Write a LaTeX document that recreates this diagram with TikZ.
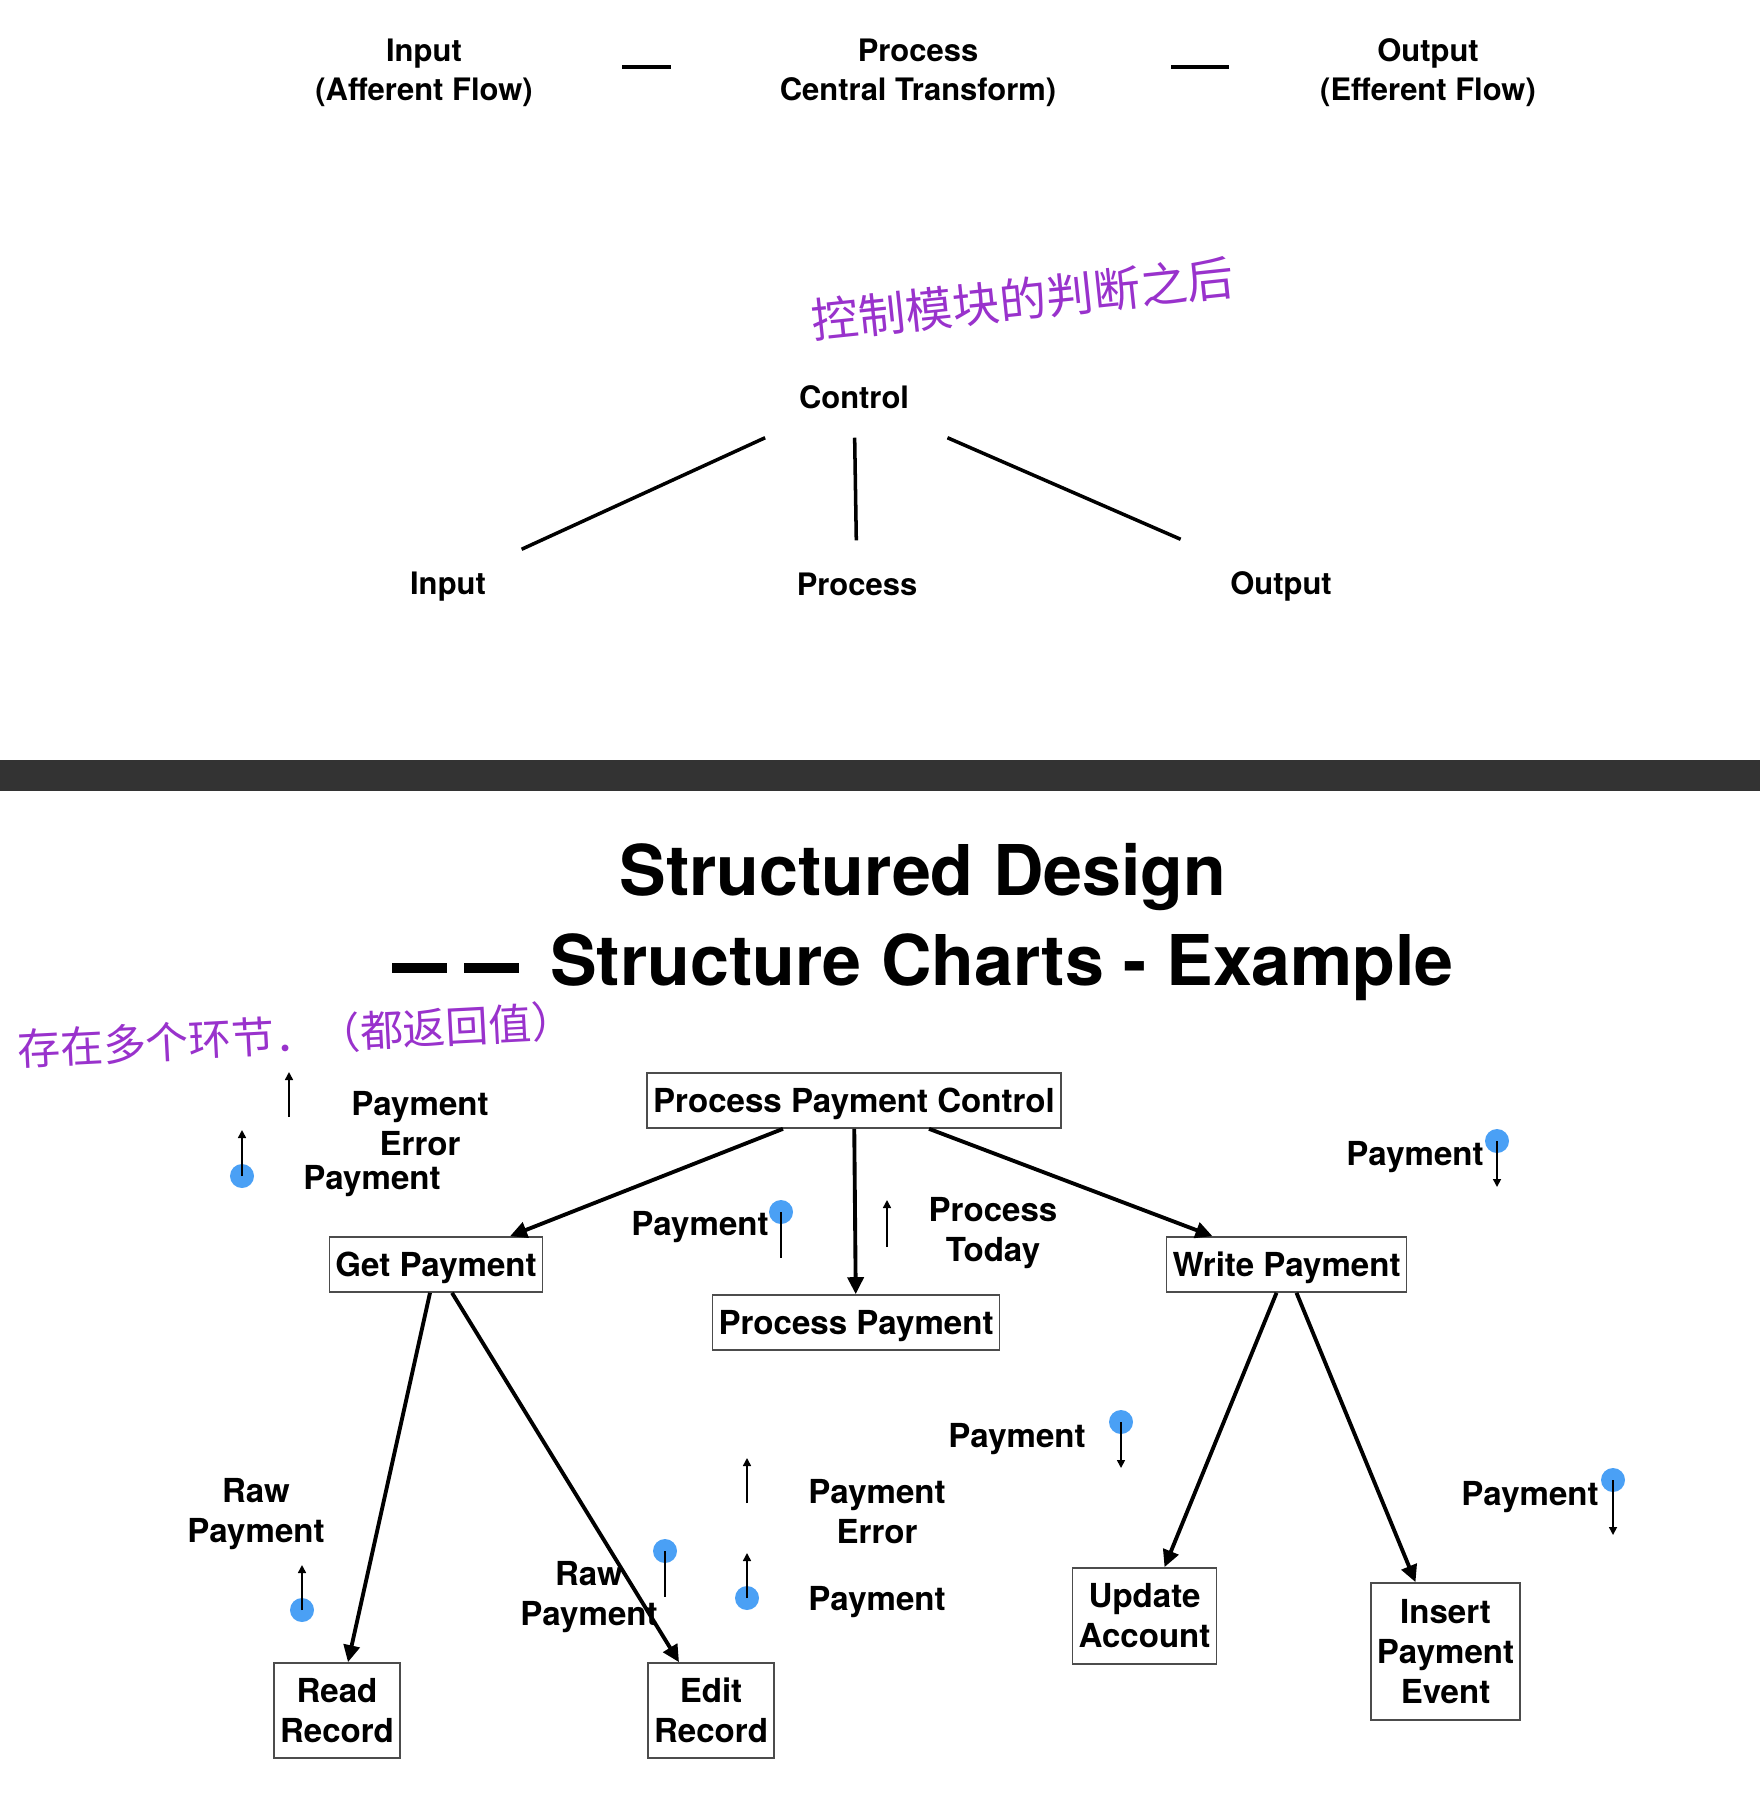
\documentclass[tikz,border=0pt]{standalone}
\usepackage{fontspec}
\setmainfont{TeX Gyre Heros}
\newfontfamily\cjk{Noto Sans CJK SC}
\usetikzlibrary{arrows.meta,calc}
\definecolor{FlagBlue}{RGB}{74,160,245}
\definecolor{InkPurple}{RGB}{153,50,204}
\definecolor{BarGray}{RGB}{51,51,51}
\newcommand{\lblfont}{\fontsize{9.4pt}{11.4pt}\selectfont\bfseries}
\newcommand{\topfont}{\fontsize{8.8pt}{11.1pt}\selectfont\bfseries}
\newcommand{\ttlfont}{\fontsize{19.9pt}{25.6pt}\selectfont\bfseries}
\newcommand{\ttldash}{\rule[0.12cm]{0.55cm}{0.1cm}}

\begin{document}
\begin{tikzpicture}[x=0.01cm,y=-0.01cm,
  box/.style={draw=black!70,line width=0.45pt,font=\lblfont,align=center,inner xsep=0.06cm,inner ysep=0.08cm,minimum height=0.55cm},
  oneline/.style={text depth=0pt},
  lbl/.style={font=\lblfont,align=center,inner sep=0pt},
  tier/.style={font=\topfont,align=center,minimum width=2cm,minimum height=0.86cm,inner sep=0pt,text depth=0pt},
  call/.style={-{Triangle[length=0.17cm,width=0.16cm]},line width=1.1pt},
  flag/.style={-{Triangle[length=0.08cm,width=0.08cm]},line width=0.45pt},
  ink/.style={text=InkPurple,inner sep=0pt}]
\useasboundingbox (0,0) rectangle (1760,1818);

\node[font=\topfont,align=center] (hin) at (424,73) {Input\\(Afferent Flow)};
\node[font=\topfont,align=center] (hproc) at (918,73) {Process\\Central Transform)};
\node[font=\topfont,align=center] (hout) at (1428,73) {Output\\(Efferent Flow)};
\draw[line width=1.15pt] (622,67) -- (671,67);
\draw[line width=1.15pt] (1171,67) -- (1229,67);

\node[ink,rotate=6,font={\cjk\fontsize{13.4pt}{15pt}\selectfont}] (note1) at (1023,299) {控制模块的判断之后};

\node[tier,minimum height=0.8cm,minimum width=2.2cm] (ctl) at (854,397) {Control};
\node[tier,minimum height=0.66cm] (tin) at (448,583) {Input};
\node[tier] (tproc) at (857,584) {Process};
\node[tier] (tout) at (1281,583) {Output};
\draw[line width=1pt] (ctl) -- (tin);
\draw[line width=1pt] (ctl) -- (tproc);
\draw[line width=1pt] (ctl) -- (tout);

\fill[BarGray] (0,760) rectangle (1760,791);

\node[font=\ttlfont,align=center] (title) at (923,922) {Structured Design\\\ttldash\hspace{0.17cm}\ttldash\hspace{0.31cm}Structure Charts - Example};
\node[ink,rotate=3,font={\cjk\fontsize{12.2pt}{14pt}\selectfont}] (note2) at (296,1035) {存在多个环节．（都返回值）};

\node[box,oneline] (ppc) at (854,1100.5) {Process Payment Control};
\node[box,oneline] (get) at (436,1264.5) {Get Payment};
\node[box,oneline] (pp) at (856,1322.5) {Process Payment};
\node[box,oneline] (wp) at (1286.5,1264.5) {Write Payment};
\node[box,minimum height=0.95cm] (rr) at (337,1710.5) {Read\\Record};
\node[box,minimum height=0.95cm] (er) at (711,1710.5) {Edit\\Record};
\node[box,minimum height=0.96cm] (ua) at (1144.5,1616) {Update\\Account};
\node[box,minimum height=1.37cm] (ipe) at (1445.5,1651.5) {Insert\\Payment\\Event};

\draw[call] ($(ppc.south)+(-71,0)$) -- ($(get.north)+(74,0)$);
\draw[call] (ppc) -- (pp);
\draw[call] ($(ppc.south)+(75,0)$) -- ($(wp.north)+(-74,0)$);
\draw[call] ($(get.south)+(-6,0)$) -- ($(rr.north)+(11,0)$);
\draw[call] ($(get.south)+(16,0)$) -- ($(er.north)+(-32,0)$);
\draw[call] ($(wp.south)+(-10,0)$) -- ($(ua.north)+(20,0)$);
\draw[call] ($(wp.south)+(10,0)$) -- ($(ipe.north)+(-30,0)$);

% couples
\node[lbl] (perr1) at (420,1124) {Payment\\Error};
\draw[flag] (289,1117) -- (289,1072);
\node[lbl] (pay1) at (372,1181) {Payment};
\fill[FlagBlue] (242,1176) circle (0.12cm);
\draw[flag] (242,1176) -- (242,1130);

\node[lbl] (pay2) at (700,1227) {Payment};
\fill[FlagBlue] (781,1212) circle (0.12cm);
\draw[line width=0.45pt] (781,1212) -- (781,1258);
\node[lbl] (ptoday) at (993,1233) {Process\\Today};
\draw[flag] (887,1247) -- (887,1200);

\node[lbl] (pay3) at (1415,1157) {Payment};
\fill[FlagBlue] (1497,1141) circle (0.12cm);
\draw[flag] (1497,1141) -- (1497,1187);

\node[lbl] (pay4) at (1017,1439) {Payment};
\fill[FlagBlue] (1121,1422) circle (0.12cm);
\draw[flag] (1121,1422) -- (1121,1468);

\node[lbl] (perr2) at (877,1512) {Payment\\Error};
\draw[flag] (747,1503) -- (747,1458);
\node[lbl] (pay5) at (877,1602) {Payment};
\fill[FlagBlue] (747,1598) circle (0.12cm);
\draw[flag] (747,1598) -- (747,1553);

\node[lbl] (raw1) at (256,1514) {Raw\\Payment};
\fill[FlagBlue] (302,1610) circle (0.12cm);
\draw[flag] (302,1610) -- (302,1565);

\node[lbl] (raw2) at (589,1597) {Raw\\Payment};
\fill[FlagBlue] (665,1551) circle (0.12cm);
\draw[line width=0.45pt] (665,1551) -- (665,1597);

\node[lbl] (pay6) at (1530,1497) {Payment};
\fill[FlagBlue] (1613,1480) circle (0.12cm);
\draw[flag] (1613,1480) -- (1613,1535);
\end{tikzpicture}
\end{document}
